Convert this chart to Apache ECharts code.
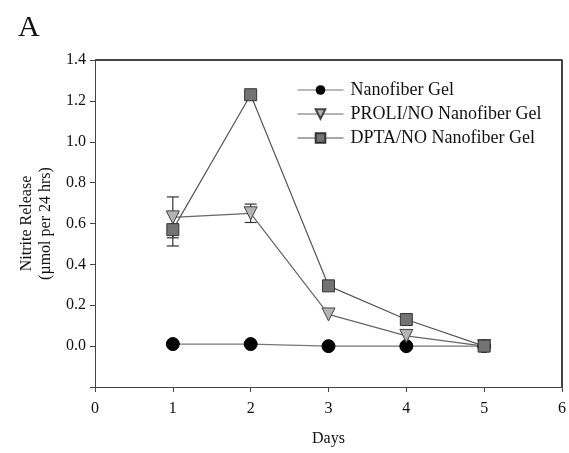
<!DOCTYPE html>
<html>
<head>
<meta charset="utf-8">
<script src="https://cdn.jsdelivr.net/npm/echarts@6/dist/echarts.min.js"></script>
<style>
  html, body { margin: 0; padding: 0; background: #fff; }
  #chart { width: 569px; height: 453px; }
</style>
</head>
<body>
<div id="chart"></div>
<script>
// values
const days = [1, 2, 3, 4, 5];
const nanofiber = [0.01, 0.01, 0.0, 0.0, 0.0];
const proli = [0.63, 0.65, 0.155, 0.05, 0.0];
const dpta = [0.57, 1.23, 0.295, 0.13, 0.0];
const proliErr = [0.1, 0.045, 0, 0, 0];
const dptaErr = [0.08, 0, 0, 0, 0];

const font = 'Liberation Serif';

function pairs(ys) {
    return days.map((d, i) => [d, ys[i]]);
}

function errData(ys, errs) {
    let out = [];
    for (let i = 0; i < days.length; ++i) {
        if (errs[i] > 0) out.push([days[i], ys[i] - errs[i], ys[i] + errs[i]]);
    }
    return out;
}

function errSeries(ys, errs) {
    return {
        type: 'custom',
        silent: true,
        z: 1,
        data: errData(ys, errs),
        renderItem: function (params, api) {
            const lo = api.coord([api.value(0), api.value(1)]);
            const hi = api.coord([api.value(0), api.value(2)]);
            const w = 6;
            const style = { stroke: '#333', lineWidth: 1.2 };
            return {
                type: 'group',
                children: [
                    { type: 'line', shape: { x1: lo[0], y1: lo[1], x2: hi[0], y2: hi[1] }, style: style },
                    { type: 'line', shape: { x1: lo[0] - w, y1: lo[1], x2: lo[0] + w, y2: lo[1] }, style: style },
                    { type: 'line', shape: { x1: hi[0] - w, y1: hi[1], x2: hi[0] + w, y2: hi[1] }, style: style }
                ]
            };
        }
    };
}

const chart = echarts.init(document.getElementById('chart'));

chart.setOption({
    animation: false,
    textStyle: { fontFamily: font },
    title: {
        text: 'A',
        left: 13,
        top: 8,
        textStyle: { fontFamily: font, fontSize: 30, fontWeight: 'normal', color: '#111' }
    },
    legend: {
        orient: 'vertical',
        left: 292,
        top: 76,
        itemGap: 6,
        itemWidth: 46,
        itemHeight: 12,
        lineStyle: { width: 1 },
        textStyle: { fontFamily: font, fontSize: 18, color: '#111', padding: [0, 0, 0, 2] },
        data: ['Nanofiber Gel', 'PROLI/NO Nanofiber Gel', 'DPTA/NO Nanofiber Gel']
    },
    grid: { left: 95, right: 6, top: 60, bottom: 66 },
    xAxis: {
        type: 'value',
        min: 0,
        max: 6,
        interval: 1,
        name: 'Days',
        nameLocation: 'middle',
        nameGap: 44,
        nameTextStyle: { fontFamily: font, fontSize: 16, color: '#111' },
        axisLine: { onZero: false, lineStyle: { color: '#444', width: 1 } },
        axisTick: { inside: false, length: 5, lineStyle: { color: '#444' } },
        axisLabel: { fontFamily: font, fontSize: 16, color: '#111', margin: 14 },
        splitLine: { show: false }
    },
    yAxis: {
        type: 'value',
        min: -0.2,
        max: 1.4,
        interval: 0.2,
        name: 'Nitrite Release\n(µmol per 24 hrs)',
        nameLocation: 'middle',
        nameGap: 38,
        nameRotate: 90,
        nameTextStyle: { fontFamily: font, fontSize: 16, color: '#111', lineHeight: 19 },
        axisLine: { show: true, lineStyle: { color: '#444', width: 1 } },
        axisTick: { inside: false, length: 5, lineStyle: { color: '#444' } },
        axisLabel: {
            fontFamily: font, fontSize: 16, color: '#111', margin: 9,
            formatter: function (v) {
                if (v < -0.01) return '';
                return v.toFixed(1);
            }
        },
        splitLine: { show: false }
    },
    series: [
        // box frame: top and right edges
        {
            type: 'line',
            silent: true,
            symbol: 'none',
            data: [[0, 1.4], [6, 1.4], [6, -0.2]],
            lineStyle: { color: '#444', width: 2 },
            z: 0
        },
        errSeries(proli, proliErr),
        errSeries(dpta, dptaErr),
        {
            name: 'Nanofiber Gel',
            type: 'line',
            data: pairs(nanofiber),
            symbol: 'circle',
            symbolSize: 13,
            itemStyle: { color: '#000', borderColor: '#000' },
            lineStyle: { color: '#777', width: 1.2 },
            z: 3
        },
        {
            name: 'PROLI/NO Nanofiber Gel',
            type: 'line',
            data: pairs(proli),
            symbol: 'triangle',
            symbolRotate: 180,
            symbolSize: 13,
            itemStyle: { color: '#b4b4b4', borderColor: '#444', borderWidth: 1 },
            lineStyle: { color: '#666', width: 1.2 },
            z: 4
        },
        {
            name: 'DPTA/NO Nanofiber Gel',
            type: 'line',
            data: pairs(dpta),
            symbol: 'rect',
            symbolSize: 12,
            itemStyle: { color: '#737373', borderColor: '#333', borderWidth: 1 },
            lineStyle: { color: '#555', width: 1.2 },
            z: 5
        }
    ]
});
</script>
</body>
</html>
